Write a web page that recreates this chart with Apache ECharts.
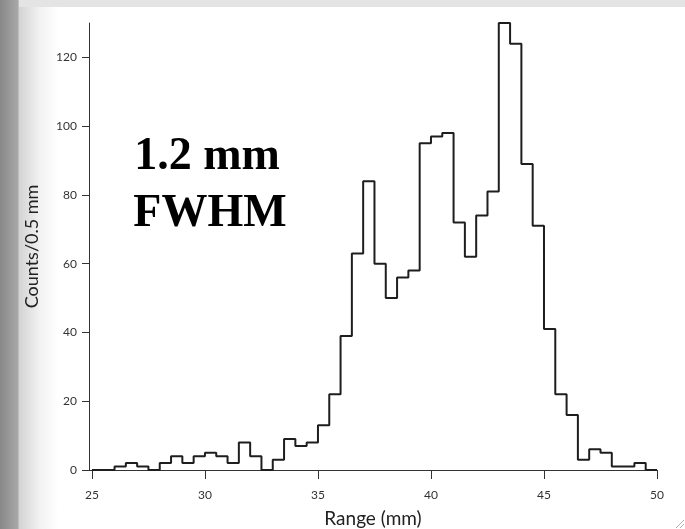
<!DOCTYPE html>
<html>
<head>
<meta charset="utf-8">
<script src="https://cdn.jsdelivr.net/npm/echarts@6/dist/echarts.min.js"></script>
<style>
html,body{margin:0;padding:0;}
body{width:685px;height:529px;overflow:hidden;position:relative;
  background:linear-gradient(to right,#888888 0px,#a8a8a8 18px,#d3d3d3 19px,#f2f2f2 40px,#ffffff 58px);}
#band{position:absolute;left:19px;top:0;width:666px;height:7px;background:#e4e4e4;}
#main{position:absolute;left:0;top:0;width:685px;height:529px;}
</style>
</head>
<body>
<div id="band"></div>
<div id="main"></div>
<script>
// histogram: 0.5 mm bins from 25 mm to 50 mm
const binStart = 25;
const binWidth = 0.5;
const counts = [
  0, 0, 1, 2, 1, 0, 2, 4, 2, 4,
  5, 4, 2, 8, 4, 0, 3, 9, 7, 8,
  13, 22, 39, 63, 84, 60, 50, 56, 58, 95,
  97, 98, 72, 62, 74, 81, 130, 124, 89, 71,
  41, 22, 16, 3, 6, 5, 1, 1, 2, 0
];
const xTicks = [25, 30, 35, 40, 45, 50];
const yTicks = [0, 20, 40, 60, 80, 100, 120];
const noteLines = ['1.2 mm', 'FWHM'];

// left edge of every bin, plus the right edge of the last one so the step closes
const stepData = counts.map((c, i) => [binStart + i * binWidth, c]);
stepData.push([binStart + counts.length * binWidth, counts[counts.length - 1]]);

const labelFont = 'Lato';

let myChart = echarts.init(document.getElementById('main'), null, {renderer: 'canvas'});
myChart.setOption({
  animation: false,
  backgroundColor: 'transparent',
  grid: {left: 89, right: 28, top: 23, bottom: 59, containLabel: false, outerBoundsMode: 'none'},
  xAxis: {
    type: 'value',
    min: 24.87,
    max: 50,
    name: 'Range (mm)',
    nameLocation: 'middle',
    nameGap: 39,
    nameMoveOverlap: false,
    nameTextStyle: {fontFamily: labelFont, fontSize: 19, color: '#222'},
    axisLine: {show: true, onZero: false, lineStyle: {color: '#333', width: 1}},
    axisTick: {show: true, length: 9, customValues: xTicks, lineStyle: {color: '#333'}},
    axisLabel: {customValues: xTicks, margin: 19, fontFamily: labelFont, fontSize: 12, color: '#333'},
    splitLine: {show: false}
  },
  yAxis: {
    type: 'value',
    min: 0,
    max: 130,
    name: 'Counts/0.5 mm',
    nameLocation: 'middle',
    nameGap: 48,
    nameMoveOverlap: false,
    nameTextStyle: {fontFamily: labelFont, fontSize: 18, color: '#222'},
    axisLine: {show: true, lineStyle: {color: '#333', width: 1}},
    axisTick: {show: true, length: 7, customValues: yTicks, lineStyle: {color: '#333'}},
    axisLabel: {customValues: yTicks, margin: 12, fontFamily: labelFont, fontSize: 12, color: '#333'},
    splitLine: {show: false}
  },
  series: [{
    type: 'line',
    step: 'end',
    data: stepData,
    symbol: 'none',
    lineStyle: {color: '#1e1e1e', width: 2},
    z: 5
  }],
  graphic: [
    {type: 'text', x: 207, y: 157, style: {text: noteLines[0], font: 'bold 46px "Liberation Serif"', fill: '#000', textAlign: 'center', textVerticalAlign: 'middle'}},
    {type: 'text', x: 210, y: 214, style: {text: noteLines[1], font: 'bold 46px "Liberation Serif"', fill: '#000', textAlign: 'center', textVerticalAlign: 'middle'}},
    // little resize grip in the corner
    {type: 'line', shape: {x1: 676, y1: 528, x2: 684, y2: 520}, style: {stroke: '#b0b0b0', lineWidth: 1}},
    {type: 'line', shape: {x1: 680, y1: 528, x2: 684, y2: 524}, style: {stroke: '#b0b0b0', lineWidth: 1}}
  ]
});
window.addEventListener('resize', function () {
  myChart.resize();
});
</script>
</body>
</html>
